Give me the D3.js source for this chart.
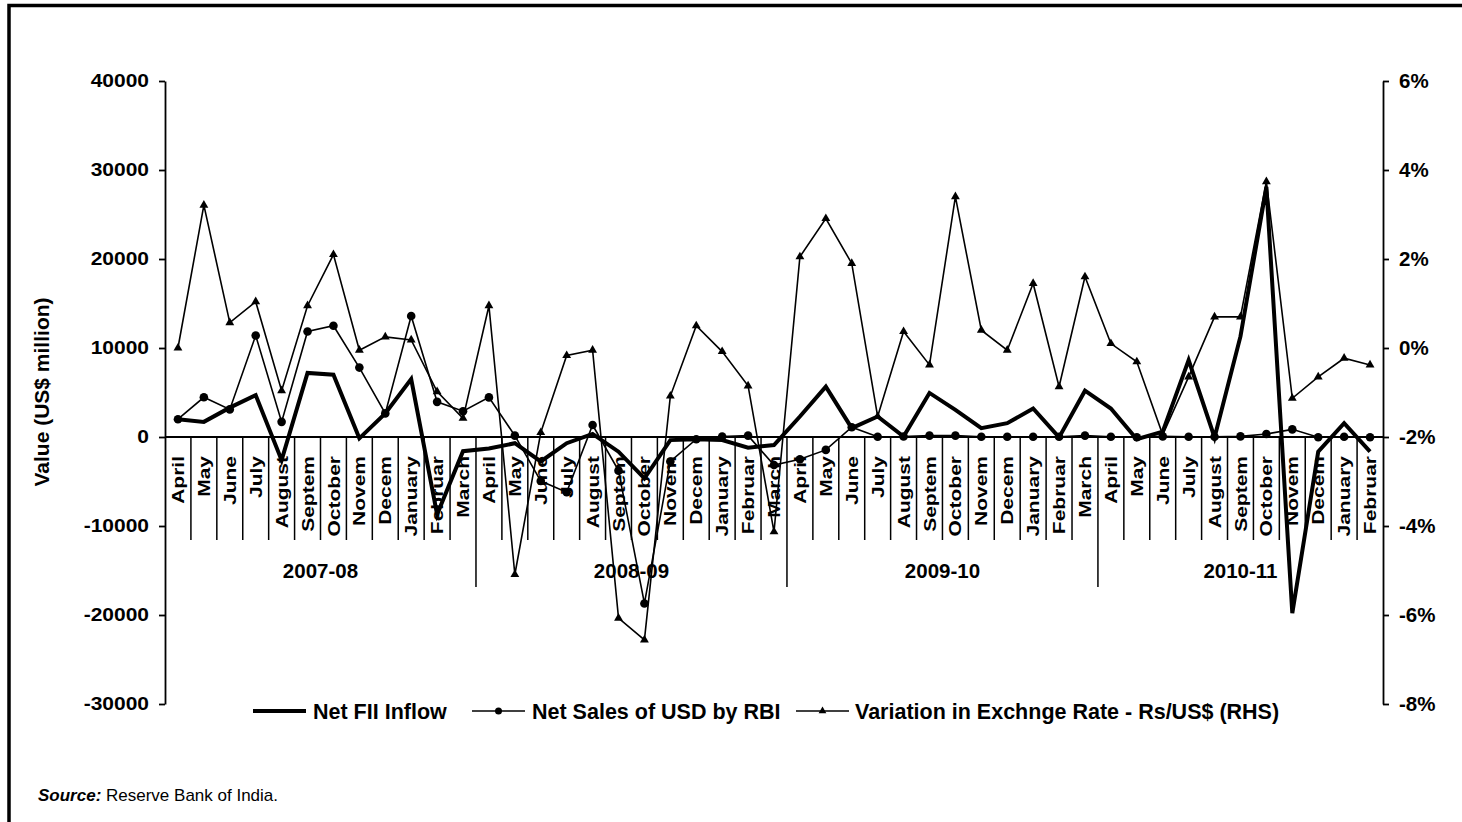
<!DOCTYPE html>
<html><head><meta charset="utf-8">
<script src="https://cdn.jsdelivr.net/npm/d3@7"></script>
<style>
html,body{margin:0;padding:0;background:#fff;}
svg{display:block;font-family:"Liberation Sans",Arial,Helvetica,sans-serif;}
</style></head>
<body><svg id="c" width="1462" height="822"></svg>
<script>
const monthNames = ["April","May","June","July","August","Septem","October","Novem","Decem","January","Februar","March"];
const years = ["2007-08","2008-09","2009-10","2010-11"];
const categories = [];
years.forEach((yr,yi)=>monthNames.forEach((m,mi)=>{ if(!(yi===3 && mi===11)) categories.push(m); }));

const netFII = [2000, 1700, 3300, 4700, -2600, 7200, 7000, -150, 2650, 6500, -8700, -1600,
  -1300, -700, -2750, -700, 350, -1650, -4650, -350, -250, -350, -1200, -900,
  2300, 5650, 1000, 2300, 50, 4950, 3050, 1000, 1550, 3200, -50, 5200,
  3200, -250, 600, 8650, -50, 11300, 28100, -19800, -1650, 1550, -1650];
const netRBI = [2000, 4460, 3100, 11400, 1700, 11850, 12500, 7800, 2650, 13600, 3950, 2900,
  4450, 150, -4950, -6200, 1350, -3780, -18700, -2750, -250, 50, 150, -3150,
  -2500, -1450, 1100, 30, 50, 150, 150, 30, 30, 30, 30, 150,
  30, -20, 70, 30, 30, 70, 340, 860, -30, 30, -30];
const exchVar = [0.0, 3.21, 0.57, 1.04, -0.96, 0.95, 2.1, -0.05, 0.25, 0.18, -0.98, -1.58,
  0.95, -5.09, -1.9, -0.17, -0.05, -6.07, -6.56, -1.08, 0.5, -0.08, -0.85, -4.13,
  2.05, 2.91, 1.9, -1.54, 0.37, -0.38, 3.4, 0.4, -0.05, 1.45, -0.87, 1.6,
  0.1, -0.31, -1.95, -0.65, 0.7, 0.7, 3.74, -1.13, -0.65, -0.23, -0.38];
const leftTicks = [-30000,-20000,-10000,0,10000,20000,30000,40000];
const rightTicks = [-8,-6,-4,-2,0,2,4,6];
const seriesNames = ["Net FII Inflow","Net Sales of USD by RBI","Variation in Exchnge Rate - Rs/US$ (RHS)"];

const svg = d3.select("#c");
const X0 = 165, X1 = 1383, YT = 81, YB = 704;

// frame
svg.append("rect").attr("x",9).attr("y",5.5).attr("width",1470).attr("height",830)
  .attr("fill","none").attr("stroke","#000").attr("stroke-width",3.5);

const x = d3.scaleBand().domain(d3.range(categories.length)).range([X0,X1]).padding(0);
const bw = x.bandwidth();
const cx = i => x(i) + bw/2;
const yL = d3.scaleLinear().domain([-30000,40000]).range([YB,YT]);
const yR = d3.scaleLinear().domain([-8,6]).range([YB,YT]);
const y0 = yL(0);

// left axis
const gL = svg.append("g").attr("transform",`translate(${X0},0)`)
  .call(d3.axisLeft(yL).tickValues(leftTicks).tickFormat(d=>String(d)).tickSize(6).tickSizeOuter(0).tickPadding(10));
gL.select(".domain").attr("stroke-width",1.8);
gL.selectAll(".tick line").attr("stroke-width",1.8);
gL.selectAll(".tick text").attr("font-size",21).attr("font-weight","bold").attr("fill","#000")
  .attr("transform","scale(1,0.85)").attr("font-family","Liberation Sans, Arial, sans-serif");

// right axis
const gR = svg.append("g").attr("transform",`translate(${X1},0)`)
  .call(d3.axisRight(yR).tickValues(rightTicks).tickFormat(d=>String(d)+"%").tickSize(6).tickSizeOuter(0).tickPadding(10));
gR.select(".domain").attr("stroke-width",1.8);
gR.selectAll(".tick line").attr("stroke-width",1.8);
gR.selectAll(".tick text").attr("font-size",20.5).attr("font-weight","bold").attr("fill","#000")
  .attr("font-family","Liberation Sans, Arial, sans-serif");

// y title
svg.append("text").attr("transform",`translate(42,392) rotate(-90)`).attr("text-anchor","middle")
  .attr("dy","0.35em").attr("font-size",21).attr("font-weight","bold").text("Value (US$ million)");

// category axis line
svg.append("line").attr("x1",X0).attr("x2",X1).attr("y1",y0).attr("y2",y0).attr("stroke","#000").attr("stroke-width",1.8);
// month separators
d3.range(1,categories.length).forEach(k=>{
  const xx = x(k);
  const isYear = k % 12 === 0;
  svg.append("line").attr("x1",xx).attr("x2",xx).attr("y1",y0).attr("y2",isYear?587:540)
    .attr("stroke","#000").attr("stroke-width",1.5);
});
// month labels
svg.append("g").selectAll("text").data(categories).join("text")
  .attr("transform",(d,i)=>`translate(${cx(i)},456) rotate(-90) scale(1,0.8)`)
  .attr("text-anchor","end").attr("dy","0.36em")
  .attr("font-size",21).attr("font-weight","bold").text(d=>d);
// year labels
svg.append("g").selectAll("text").data(years).join("text")
  .attr("x",(d,i)=>{const a=x(i*12); const b=(i*12+12<categories.length)? x(i*12+12) : X1; return (a+b)/2;})
  .attr("y",578).attr("text-anchor","middle").attr("font-size",20.5).attr("font-weight","bold").text(d=>d);

// series
const lineL = d3.line().x((d,i)=>cx(i)).y(d=>yL(d));
const lineR = d3.line().x((d,i)=>cx(i)).y(d=>yR(d));
svg.append("path").attr("d",lineR(exchVar)).attr("fill","none").attr("stroke","#000").attr("stroke-width",1.6).attr("stroke-linejoin","miter");
svg.append("path").attr("d",lineL(netRBI)).attr("fill","none").attr("stroke","#000").attr("stroke-width",1.6);
svg.append("path").attr("d",lineL(netFII)).attr("fill","none").attr("stroke","#000").attr("stroke-width",4).attr("stroke-linejoin","miter");
const tri = d3.symbol().type(d3.symbolTriangle).size(34);
svg.append("g").selectAll("path").data(exchVar).join("path")
  .attr("transform",(d,i)=>`translate(${cx(i)},${yR(d)})`).attr("d",tri()).attr("fill","#000");
svg.append("g").selectAll("circle").data(netRBI).join("circle")
  .attr("cx",(d,i)=>cx(i)).attr("cy",d=>yL(d)).attr("r",4.3).attr("fill","#000");

// legend
const lg = svg.append("g");
const ly = 711;
lg.append("line").attr("x1",253).attr("x2",306).attr("y1",ly).attr("y2",ly).attr("stroke","#000").attr("stroke-width",4);
lg.append("text").attr("x",313).attr("y",ly).attr("dy","0.36em").attr("font-size",21.5).attr("font-weight","bold").text(seriesNames[0]);
lg.append("line").attr("x1",472).attr("x2",525).attr("y1",ly).attr("y2",ly).attr("stroke","#000").attr("stroke-width",1.6);
lg.append("circle").attr("cx",498.5).attr("cy",ly).attr("r",3.5).attr("fill","#000");
lg.append("text").attr("x",532).attr("y",ly).attr("dy","0.36em").attr("font-size",21.5).attr("font-weight","bold").text(seriesNames[1]);
lg.append("line").attr("x1",796).attr("x2",849).attr("y1",ly).attr("y2",ly).attr("stroke","#000").attr("stroke-width",1.6);
lg.append("path").attr("transform",`translate(822.5,${ly})`).attr("d",d3.symbol().type(d3.symbolTriangle).size(26)()).attr("fill","#000");
lg.append("text").attr("x",855).attr("y",ly).attr("dy","0.36em").attr("font-size",21.5).attr("font-weight","bold").text(seriesNames[2]);

// source
const src = svg.append("text").attr("x",38).attr("y",801).attr("font-size",17);
src.append("tspan").attr("font-weight","bold").attr("font-style","italic").text("Source:");
src.append("tspan").text(" Reserve Bank of India.");
</script>
</body></html>
